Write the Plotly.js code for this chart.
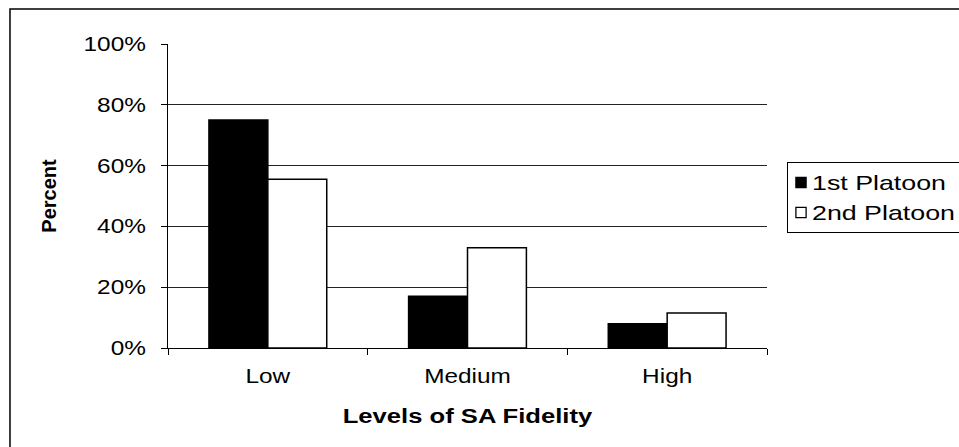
<!DOCTYPE html>
<html>
<head>
<meta charset="utf-8">
<script src="https://cdn.plot.ly/plotly-3.0.1.min.js"></script>
<style>
  html, body { margin: 0; padding: 0; background: #ffffff; overflow: hidden; }
  #chart { width: 959px; height: 447px; }
</style>
</head>
<body>
<div id="chart"></div>
<script>
const categories = ["Low", "Medium", "High"];
const platoon1 = [0.75, 0.17, 0.08];
const platoon2 = [0.555, 0.33, 0.115];
const seriesNames = ["1st Platoon", "2nd Platoon"];
const yTickValues = [0, 0.2, 0.4, 0.6, 0.8, 1.0];
const yTickLabels = ["0%", "20%", "40%", "60%", "80%", "100%"];
const xTitle = "Levels of SA Fidelity";
const yTitle = "Percent";

const FONT = "Liberation Sans, Arial, sans-serif";
const TEXT_STRETCH = 1.22;   // the reference text is drawn horizontally widened
const LEGEND_STRETCH = 1.34;

const traces = [
  {
    type: "bar", name: seriesNames[0], x: categories, y: platoon1,
    marker: { color: "#000000", line: { color: "#000000", width: 1.5 } },
    legendgroup: "a", hoverinfo: "skip"
  },
  {
    type: "bar", name: seriesNames[1], x: categories, y: platoon2,
    marker: { color: "#ffffff", line: { color: "#000000", width: 1.5 } },
    legendgroup: "b", hoverinfo: "skip"
  }
];

const layout = {
  width: 959, height: 447,
  margin: { l: 168, r: 192, t: 44, b: 99, pad: 0, autoexpand: false },
  paper_bgcolor: "#ffffff", plot_bgcolor: "#ffffff",
  font: { family: FONT, size: 20, color: "#000000" },
  barmode: "group", bargap: 0.41, bargroupgap: 0,
  showlegend: true,
  legend: {
    x: 1.0334, y: 0.612, xanchor: "left", yanchor: "top",
    bordercolor: "#000000", borderwidth: 1, bgcolor: "#ffffff",
    font: { family: FONT, size: 20 },
    traceorder: "grouped", tracegroupgap: 1
  },
  xaxis: {
    type: "category",
    showline: true, linecolor: "#000000", linewidth: 1,
    ticks: "outside", ticklen: 6, tickcolor: "#000000", tickson: "boundaries",
    ticklabelstandoff: 10,
    showgrid: false, zeroline: false,
    tickfont: { family: FONT, size: 20 },
    title: { text: xTitle, font: { family: FONT, size: 21, weight: "bold" }, standoff: 22 },
    fixedrange: true
  },
  yaxis: {
    range: [0, 1],
    tickvals: yTickValues, ticktext: yTickLabels,
    showline: true, linecolor: "#000000", linewidth: 1,
    ticks: "outside", ticklen: 6, tickcolor: "#000000",
    ticklabelstandoff: 11,
    showgrid: true, gridcolor: "#222222", gridwidth: 1,
    zeroline: false,
    tickfont: { family: FONT, size: 20 },
    title: { text: yTitle, font: { family: FONT, size: 20, weight: "bold" }, standoff: 32 },
    fixedrange: true
  },
  shapes: [
    {
      type: "rect", xref: "paper", yref: "paper",
      x0: -0.2638, x1: 2, y0: -1, y1: 1.1151,
      line: { color: "#000000", width: 1.5 }, fillcolor: "rgba(0,0,0,0)", layer: "below"
    }
  ]
};

function widenText(gd) {
  const nodes = gd.querySelectorAll(".xtick text, .ytick text, text.xtitle, text.legendtext");
  nodes.forEach(function (t) {
    if (t.getAttribute("data-widened") === "1") return;
    const isLegend = t.classList.contains("legendtext");
    const anchor = t.getAttribute("text-anchor") || "start";
    const bb = t.getBBox();
    let ax = bb.x;
    if (anchor === "end") ax = bb.x + bb.width;
    else if (anchor === "middle") ax = bb.x + bb.width / 2;
    const prev = t.getAttribute("transform") || "";
    const shift = isLegend ? " translate(-16,0)" : "";
    const s = isLegend ? LEGEND_STRETCH : TEXT_STRETCH;
    t.setAttribute("transform", prev + shift + " translate(" + ax + ",0) scale(" + s + ",1) translate(" + (-ax) + ",0)");
    t.setAttribute("data-widened", "1");
  });
  // legend: symbols closer to the box edge and a box running off the page, as in the reference
  gd.querySelectorAll(".legend .legendpoints path").forEach(function (p) {
    if (p.getAttribute("data-moved") === "1") return;
    const prev = p.getAttribute("transform") || "";
    p.setAttribute("transform", prev + " translate(-7,0) scale(0.85)");
    p.setAttribute("data-moved", "1");
  });
  gd.querySelectorAll(".legend rect.bg").forEach(function (r) { r.setAttribute("width", 240); });
  gd.querySelectorAll(".legend .scrollbox").forEach(function (g) { g.removeAttribute("clip-path"); });
}

Plotly.newPlot("chart", traces, layout, { staticPlot: true, displayModeBar: false }).then(function (gd) {
  widenText(gd);
  gd.on("plotly_afterplot", function () { widenText(gd); });
});
</script>
</body>
</html>
